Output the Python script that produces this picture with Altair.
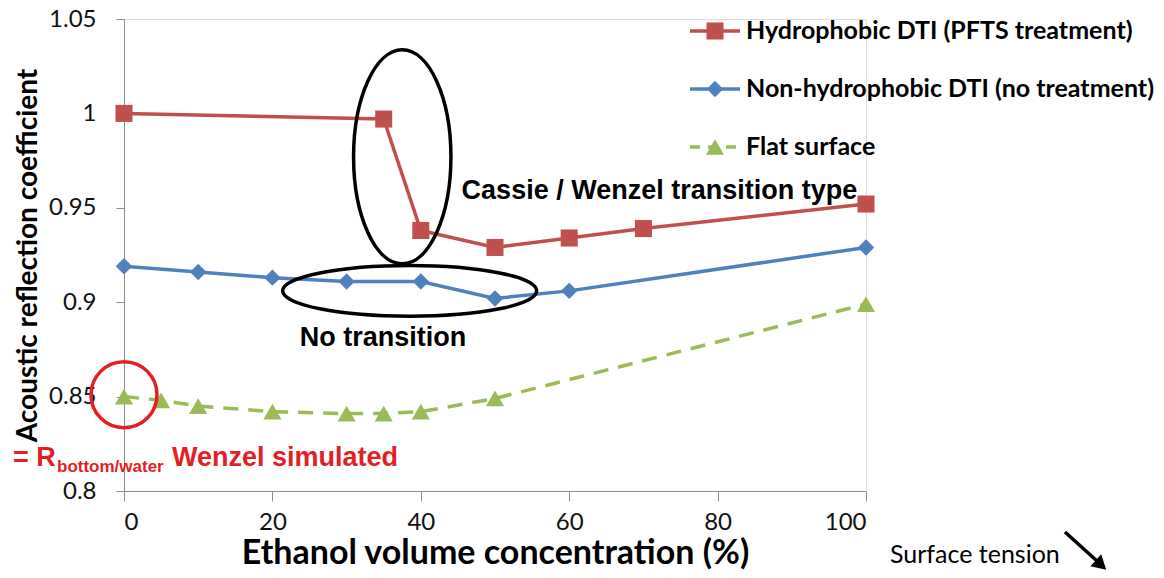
import altair as alt
import pandas as pd

# ---------------- data ----------------
red_x = [0, 35, 40, 50, 60, 70, 100]
red_y = [1.000, 0.997, 0.938, 0.929, 0.934, 0.939, 0.952]
blue_x = [0, 10, 20, 30, 40, 50, 60, 100]
blue_y = [0.919, 0.916, 0.913, 0.911, 0.911, 0.902, 0.906, 0.929]
green_x = [0, 5, 10, 20, 30, 35, 40, 50, 100]
green_y = [0.850, 0.848, 0.845, 0.842, 0.841, 0.841, 0.842, 0.849, 0.899]
series_names = ["Hydrophobic DTI (PFTS treatment)",
                "Non-hydrophobic DTI (no treatment)",
                "Flat surface"]
x_ticks = [0, 20, 40, 60, 80, 100]
y_ticks = [0.8, 0.85, 0.9, 0.95, 1.0, 1.05]

# annotation anchors (data space)
ell_v = {"x": [37.5], "y": [0.977]}
ell_h = {"x": [38.5], "y": [0.906]}
circ = {"x": [0], "y": [0.851]}
cassie = {"x": [45.5], "y": [0.959], "t": ["Cassie / Wenzel transition type"]}
notrans = {"x": [23.7], "y": [0.881], "t": ["No transition"]}

RED = "#C0504D"
BLUE = "#4F81BD"
GREEN = "#9BBB59"
AX = "#8C8C8C"
W, H = 742, 472

xs = alt.Scale(domain=[0, 100], nice=False, zero=False)
ys = alt.Scale(domain=[0.8, 1.05], nice=False, zero=False)

X = alt.X("x:Q", scale=xs, axis=alt.Axis(
    values=x_ticks, title="Ethanol volume concentration (%)", grid=False,
    domainColor=AX, tickColor=AX, tickSize=10, labelPadding=9,
    labelFont="Lato", labelFontSize=24, labelColor="#111",
    titleFont="Lato", titleFontSize=34, titleFontWeight="bold", titleColor="#000",
    titleY=72, titleBaseline="alphabetic"))
Y = alt.Y("y:Q", scale=ys, axis=alt.Axis(
    values=y_ticks, format=".2~f", title="Acoustic reflection coefficient", grid=False,
    domainColor=AX, tickColor=AX, tickSize=8, labelPadding=20,
    labelFont="Lato", labelFontSize=24, labelColor="#111",
    titleFont="Lato", titleFontSize=28, titleFontWeight="bold", titleColor="#000",
    titleX=-88, titleBaseline="alphabetic"))


def df(**k):
    return pd.DataFrame(k)


def ellipse_path(rx, ry):
    k = 0.5523
    return (f"M {rx} 0 C {rx} {k*ry} {k*rx} {ry} 0 {ry} "
            f"C {-k*rx} {ry} {-rx} {k*ry} {-rx} 0 "
            f"C {-rx} {-k*ry} {-k*rx} {-ry} 0 {-ry} "
            f"C {k*rx} {-ry} {rx} {-k*ry} {rx} 0 Z")


red_df = df(x=red_x, y=red_y)
blue_df = df(x=blue_x, y=blue_y)
green_df = df(x=green_x, y=green_y)

layers = []
layers.append(alt.Chart(green_df).mark_line(color=GREEN, strokeWidth=3.5, strokeDash=[15, 10]).encode(x=X, y=Y))
layers.append(alt.Chart(green_df).mark_point(shape="triangle-up", filled=True, opacity=1, color=GREEN, size=330).encode(x=X, y=Y))
layers.append(alt.Chart(blue_df).mark_line(color=BLUE, strokeWidth=3.5).encode(x=X, y=Y))
layers.append(alt.Chart(blue_df).mark_point(shape="diamond", filled=True, opacity=1, color=BLUE, size=270).encode(x=X, y=Y))
layers.append(alt.Chart(red_df).mark_line(color=RED, strokeWidth=3.5).encode(x=X, y=Y))
layers.append(alt.Chart(red_df).mark_point(shape="square", filled=True, opacity=1, color=RED, size=290).encode(x=X, y=Y))

# ellipses / circle annotations
layers.append(alt.Chart(pd.DataFrame(ell_v)).mark_point(
    shape=ellipse_path(0.455, 1), size=214 ** 2, filled=False, opacity=1,
    stroke="#000", strokeWidth=3.5).encode(x=X, y=Y))
layers.append(alt.Chart(pd.DataFrame(ell_h)).mark_point(
    shape=ellipse_path(1, 0.2), size=254 ** 2, filled=False, opacity=1,
    stroke="#000", strokeWidth=3.5).encode(x=X, y=Y))
layers.append(alt.Chart(pd.DataFrame(circ)).mark_point(
    shape="circle", size=66 ** 2, filled=False, opacity=1,
    stroke="#E31E24", strokeWidth=3.5).encode(x=X, y=Y))

layers.append(alt.Chart(pd.DataFrame(cassie)).mark_text(
    align="left", baseline="middle", font="Liberation Sans", fontWeight="bold",
    fontSize=27, color="#000").encode(x=X, y=Y, text="t:N"))
layers.append(alt.Chart(pd.DataFrame(notrans)).mark_text(
    align="left", baseline="middle", font="Liberation Sans", fontWeight="bold",
    fontSize=27, color="#000").encode(x=X, y=Y, text="t:N"))

# red "= R_bottom/water Wenzel simulated"
RT = "#E31E24"
layers.append(alt.Chart(df(t=["= R"])).mark_text(
    align="left", baseline="alphabetic", font="Liberation Sans", fontWeight="bold",
    fontSize=27, color=RT).encode(x=alt.value(-111), y=alt.value(447), text="t:N"))
layers.append(alt.Chart(df(t=["bottom/water"])).mark_text(
    align="left", baseline="alphabetic", font="Liberation Sans", fontWeight="bold",
    fontSize=17, color=RT).encode(x=alt.value(-67), y=alt.value(453), text="t:N"))
layers.append(alt.Chart(df(t=["Wenzel simulated"])).mark_text(
    align="left", baseline="alphabetic", font="Liberation Sans", fontWeight="bold",
    fontSize=27, color=RT).encode(x=alt.value(48), y=alt.value(447), text="t:N"))

# legend
leg_y = [12, 70, 128]
leg_col = [RED, BLUE, GREEN]
leg_shape = ["square", "diamond", "triangle-up"]
leg_size = [290, 270, 330]
for i in range(3):
    dash = [10, 8] if i == 2 else [1, 0]
    layers.append(alt.Chart(df(t=[series_names[i]])).mark_rule(
        color=leg_col[i], strokeWidth=3.5, strokeDash=dash).encode(
        x=alt.value(566), x2=alt.value(616), y=alt.value(leg_y[i])))
    layers.append(alt.Chart(df(t=[series_names[i]])).mark_point(
        shape=leg_shape[i], filled=True, opacity=1, color=leg_col[i], size=leg_size[i]).encode(
        x=alt.value(591), y=alt.value(leg_y[i])))
    layers.append(alt.Chart(df(t=[series_names[i]])).mark_text(
        align="left", baseline="middle", font="Lato", fontWeight="bold",
        fontSize=25, color="#000").encode(
        x=alt.value(622), y=alt.value(leg_y[i]), text="t:N"))

# surface tension note + arrow
layers.append(alt.Chart(df(t=["Surface tension"])).mark_text(
    align="left", baseline="alphabetic", font="Lato", fontSize=25, color="#000").encode(
    x=alt.value(766), y=alt.value(544), text="t:N"))
layers.append(alt.Chart(df(t=["arrow"])).mark_rule(color="#000", strokeWidth=3.5).encode(
    x=alt.value(941), y=alt.value(513), x2=alt.value(973), y2=alt.value(542)))
layers.append(alt.Chart(df(t=["arrow"])).mark_point(
    shape="triangle-right", angle=42, filled=True, opacity=1, color="#000", size=260).encode(
    x=alt.value(977), y=alt.value(546)))

chart = alt.layer(*layers).properties(
    width=W, height=H,
    autosize=alt.AutoSizeParams(type="none"),
    padding={"left": 116, "top": 11, "right": 290, "bottom": 79},
).configure_view(stroke=None).configure(background="white")

chart.save("out.html", embed_options={"renderer": "svg", "actions": False})
